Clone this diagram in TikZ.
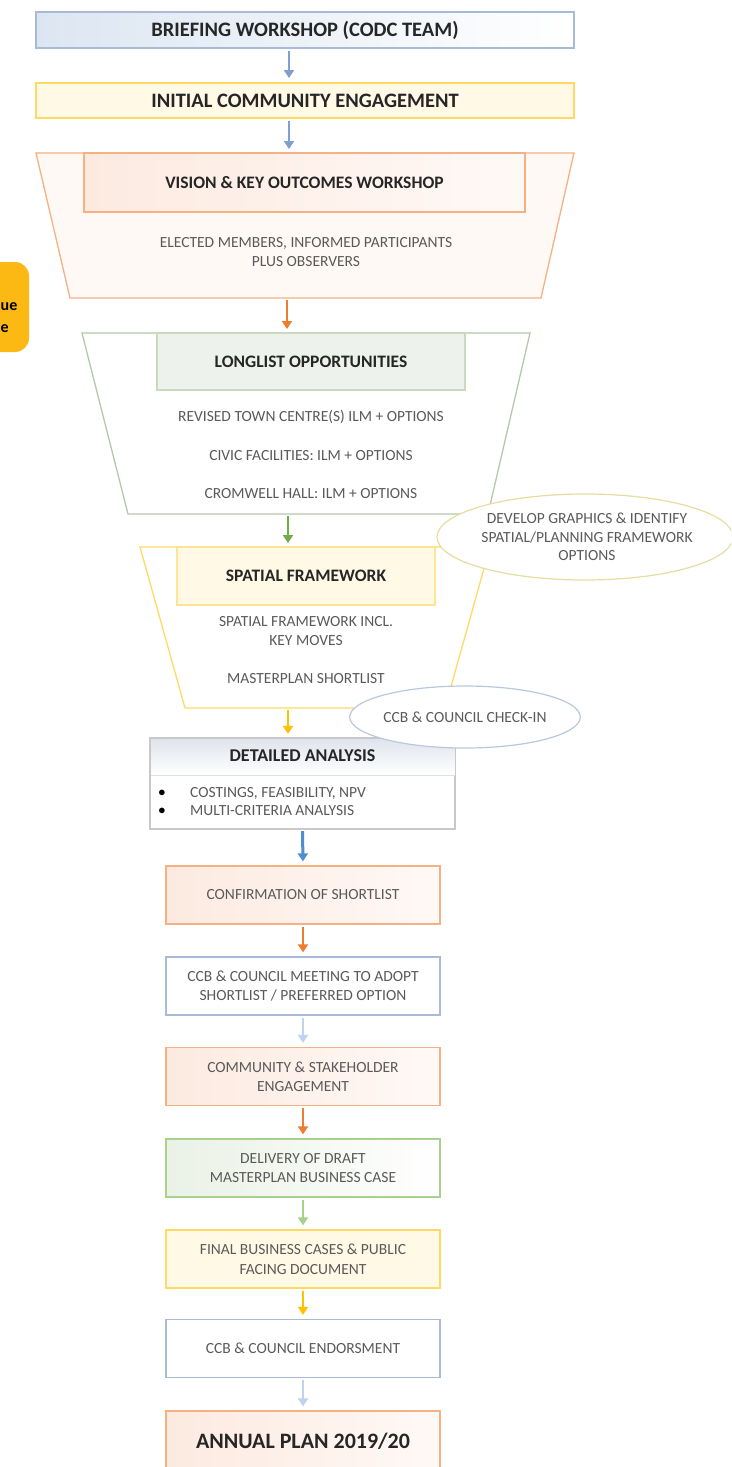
\documentclass[tikz,border=0pt]{standalone}
\usepackage{fontspec}
\setmainfont{Carlito}
\usetikzlibrary{arrows.meta,shapes.geometric}
\definecolor{hdrc}{HTML}{262626}
\definecolor{bodyc}{HTML}{5A5A5A}
\definecolor{bluearr}{HTML}{7F9ED1}
\definecolor{darkbluearr}{HTML}{4F8FD0}
\definecolor{orangearr}{HTML}{ED7D31}
\definecolor{greenarr}{HTML}{70AD47}
\definecolor{yellowarr}{HTML}{FFC000}
\definecolor{lbluearr}{HTML}{BDD3EE}
\definecolor{blueb}{HTML}{A8BAD6}
\definecolor{orangeb}{HTML}{F4B183}
\definecolor{greenb}{HTML}{A9D18E}
\definecolor{greengrayb}{HTML}{B5C9A8}
\definecolor{yellowb}{HTML}{FFD966}
\definecolor{grayb}{HTML}{C9C9C9}
\definecolor{khakib}{HTML}{E6DDA0}
\definecolor{bluefill}{HTML}{DCE6F2}
\definecolor{peach}{HTML}{FCEAE0}
\definecolor{peachlight}{HTML}{FFF9F6}
\definecolor{cream}{HTML}{FFF9E6}
\definecolor{lgreen}{HTML}{EAF1E5}
\definecolor{ggfill}{HTML}{EEF2EC}
\definecolor{amber}{HTML}{FDB913}
\definecolor{bandtop}{HTML}{DFE4EC}
\newcommand\myHdr{\fontsize{20.5}{24}\selectfont\bfseries}
\newcommand\mySub{\fontsize{17.5}{20}\selectfont\bfseries}
\newcommand\myBody{\fontsize{15.5}{19.5}\selectfont}
\newcommand\mySmall{\fontsize{15.5}{18}\selectfont}
\begin{document}
\begin{tikzpicture}[x=1pt,y=-1pt,
  rect/.style={draw, line width=1.2pt, inner sep=0pt, align=center},
  hdrtext/.style={font=\myHdr, text=hdrc},
  subtext/.style={font=\mySub, text=hdrc},
  bodytext/.style={font=\myBody, text=bodyc, align=center, inner sep=0pt},
  lbox/.style={rect, minimum width=274pt, minimum height=58pt, font=\myBody, text=bodyc},
  arr/.style={line width=2pt, -{Triangle[width=10pt,length=8pt]}, shorten >=4pt, shorten <=2pt},
  funnel/.style={line width=1.3pt}]
\clip (0,0) rectangle (731,1467);
\fill[white] (0,0) rectangle (731,1467);

% side tab
\node[fill=amber, rounded corners=14pt, minimum width=80pt, minimum height=90pt] (side) at (-11,307) {};
\node[anchor=west, font=\fontsize{16}{20}\selectfont\bfseries, text=black, inner sep=0pt] (sideA) at (0.5,307) {ue};
\node[anchor=west, font=\fontsize{16}{20}\selectfont\bfseries, text=black, inner sep=0pt] (sideB) at (0.5,329) {e};

% top boxes
\node[rect, hdrtext, draw=blueb, left color=bluefill, right color=white, minimum width=538pt, minimum height=36pt] (brief) at (305,30) {BRIEFING WORKSHOP (CODC TEAM)};
\node[rect, hdrtext, draw=yellowb, line width=2pt, fill=cream, minimum width=538pt, minimum height=35pt] (init) at (305,100.5) {INITIAL COMMUNITY ENGAGEMENT};

% funnel 1
\filldraw[funnel, draw=orangeb, fill=peachlight] (36,153) -- (574,153) -- (541,298) -- (70,298) -- cycle;
\coordinate (t1top) at (289,153);
\coordinate (t1bot) at (287,298);
\node[rect, subtext, draw=orangeb, left color=peach, right color=peachlight, minimum width=441pt, minimum height=59pt] (vis) at (304.5,182.5) {VISION \& KEY OUTCOMES WORKSHOP};
\node[bodytext] (elect) at (306,252) {ELECTED MEMBERS, INFORMED PARTICIPANTS\\PLUS OBSERVERS};

% funnel 2
\filldraw[funnel, draw=greengrayb, fill=white] (82,333) -- (530,333) -- (488,514) -- (128,514) -- cycle;
\coordinate (t2top) at (287,333);
\coordinate (t2bot) at (288,514);
\node[rect, subtext, draw=greengrayb!70, fill=ggfill, minimum width=308pt, minimum height=57pt] (long) at (311,361.5) {LONGLIST OPPORTUNITIES};
\node[bodytext] (rev) at (311,417) {REVISED TOWN CENTRE(S) ILM + OPTIONS};
\node[bodytext] (civ) at (311,456) {CIVIC FACILITIES: ILM + OPTIONS};
\node[bodytext] (crom) at (311,494) {CROMWELL HALL: ILM + OPTIONS};

% funnel 3
\filldraw[funnel, draw=yellowb, fill=white] (140,547) -- (490,547) -- (445,708) -- (185,708) -- cycle;
\coordinate (t3top) at (288,547);
\coordinate (t3bot) at (288,708);
\node[rect, subtext, draw=yellowb!70, fill=cream, minimum width=258pt, minimum height=58pt] (spat) at (306,576) {SPATIAL FRAMEWORK};
\node[bodytext] (sfi) at (306,631) {SPATIAL FRAMEWORK INCL.\\KEY MOVES};
\node[bodytext] (msl) at (306,679) {MASTERPLAN SHORTLIST};

% develop ellipse
\node[ellipse, draw=khakib, line width=1.2pt, fill=white, minimum width=296pt, minimum height=86pt, inner sep=0pt] (dev) at (585,537) {};
\node[bodytext, font=\fontsize{15.5}{18.5}\selectfont] (devT) at (587,537) {DEVELOP GRAPHICS \& IDENTIFY\\SPATIAL/PLANNING FRAMEWORK\\OPTIONS};

% detailed analysis
\node[rect, draw=grayb, fill=white, minimum width=304pt, minimum height=90pt] (da) at (302.5,783.5) {};
\fill[top color=bandtop, bottom color=white] ([shift={(0.6pt,-0.6pt)}]da.north west) rectangle ([yshift=-37pt]da.north east);
\draw[grayb!60, line width=0.8pt] ([yshift=-37pt]da.north west) -- ([yshift=-37pt]da.north east);
\draw[grayb, line width=1.2pt] (da.north west) rectangle (da.south east);
\node[font=\fontsize{18}{20}\selectfont\bfseries, text=hdrc] (daT) at (302.5,756) {DETAILED ANALYSIS};
\node[font=\mySmall, text=black] (b1) at (162,793) {$\bullet$};
\node[font=\mySmall, text=black] (b2) at (162,811) {$\bullet$};
\node[font=\mySmall, text=bodyc, anchor=west, inner sep=0pt] (l1) at (190,793) {COSTINGS, FEASIBILITY, NPV};
\node[font=\mySmall, text=bodyc, anchor=west, inner sep=0pt] (l2) at (190,811) {MULTI-CRITERIA ANALYSIS};

% check-in ellipse
\node[ellipse, draw=blueb!80, line width=1.2pt, fill=white, minimum width=220pt, minimum height=62pt, inner sep=0pt, font=\fontsize{15.5}{18}\selectfont, text=bodyc] (chk) at (465,717) {CCB \& COUNCIL CHECK-IN};

% lower boxes
\node[lbox, draw=orangeb, left color=peach, right color=peachlight] (conf) at (303,895) {CONFIRMATION OF SHORTLIST};
\node[lbox, draw=blueb, fill=white] (meet) at (303,986) {CCB \& COUNCIL MEETING TO ADOPT\\SHORTLIST / PREFERRED OPTION};
\node[lbox, draw=orangeb, left color=peach, right color=peachlight] (comm) at (303,1076.5) {COMMUNITY \& STAKEHOLDER\\ENGAGEMENT};
\node[lbox, draw=greenb, left color=lgreen, right color=white] (deliv) at (303,1168) {DELIVERY OF DRAFT\\MASTERPLAN BUSINESS CASE};
\node[lbox, draw=yellowb, fill=cream] (final) at (303,1259) {FINAL BUSINESS CASES \& PUBLIC\\FACING DOCUMENT};
\node[lbox, draw=blueb, fill=white] (endo) at (303,1348.5) {CCB \& COUNCIL ENDORSMENT};
\node[lbox, draw=orangeb, left color=peach, right color=peachlight, minimum height=60pt, font=\fontsize{22}{24}\selectfont\bfseries, text=hdrc] (annual) at (303,1441) {ANNUAL PLAN 2019/20};

% arrows
\draw[arr, bluearr] ([xshift=-16pt]brief.south) -- ([xshift=-16pt]init.north);
\draw[arr, bluearr] ([xshift=-16pt]init.south) -- (t1top);
\draw[arr, orangearr] (t1bot) -- (t2top);
\draw[arr, greenarr] (t2bot) -- (t3top);
\draw[arr, yellowarr] (t3bot) -- (da.north -| t3bot);
\draw[arr, darkbluearr, line width=3pt] (da.south) -- (conf.north);
\draw[arr, orangearr] (conf) -- (meet);
\draw[arr, lbluearr] (meet) -- (comm);
\draw[arr, orangearr] (comm) -- (deliv);
\draw[arr, greenb] (deliv) -- (final);
\draw[arr, yellowarr] (final) -- (endo);
\draw[arr, lbluearr] (endo) -- (annual);
\end{tikzpicture}
\end{document}
